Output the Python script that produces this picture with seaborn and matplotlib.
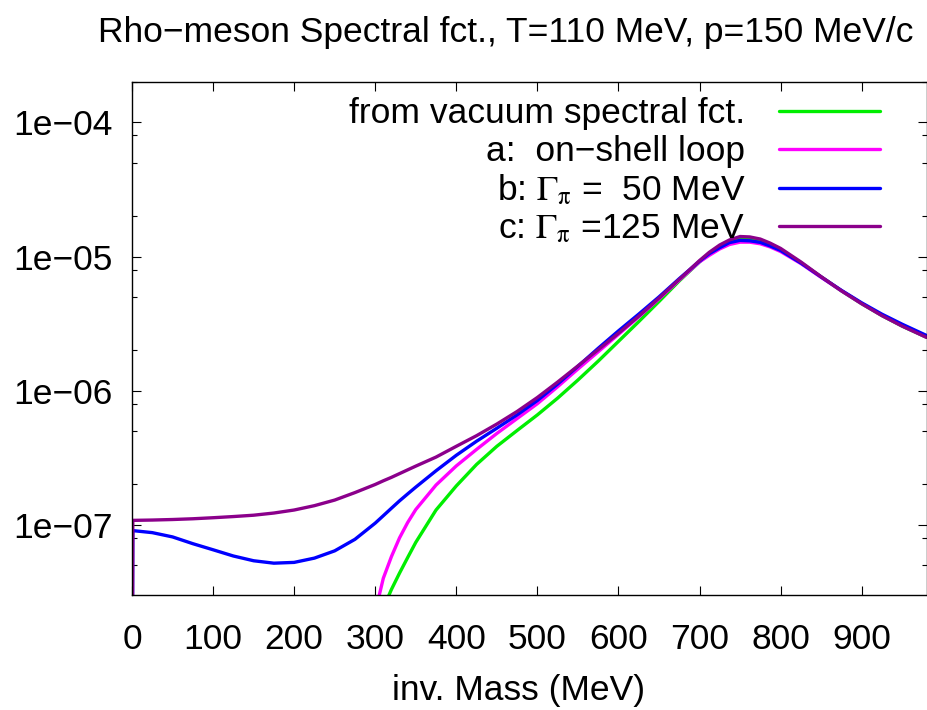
import numpy as np
import pandas as pd
import matplotlib
matplotlib.use("Agg")
import matplotlib.pyplot as plt
import matplotlib.ticker as mticker
import seaborn as sns

# ---------------- data ----------------
mass = [0, 1, 25, 50, 75, 100, 125, 150, 175, 200, 225, 250, 275, 300,
        310, 320, 330, 340, 350, 375, 400, 425, 450, 475, 500, 525, 550,
        575, 600, 625, 650, 675, 700, 712, 725, 737, 750, 762, 775, 787,
        800, 825, 850, 875, 900, 925, 950, 980]

nan = np.nan
spec_vacuum = [nan, nan, nan, nan, nan, nan, nan, nan, nan, nan, nan, nan, nan, nan,
               2.4e-8, 3.3e-8, 4.37e-8, 5.7e-8, 7.4e-8, 1.29e-7, 1.95e-7, 2.82e-7,
               3.85e-7, 5.05e-7, 6.6e-7, 8.8e-7, 1.20e-6, 1.66e-6, 2.33e-6, 3.27e-6,
               4.62e-6, 6.58e-6, 9.12e-6, 1.05e-5, 1.18e-5, 1.29e-5, 1.37e-5,
               1.365e-5, 1.32e-5, 1.235e-5, 1.127e-5, 9.0e-6, 7.05e-6, 5.55e-6,
               4.45e-6, 3.63e-6, 3.03e-6, 2.5e-6]

spec_onshell = [nan, nan, nan, nan, nan, nan, nan, nan, nan, nan, nan, nan, nan, 2.24e-8,
                4.0e-8, 5.8e-8, 8.0e-8, 1.04e-7, 1.3e-7, 1.98e-7, 2.75e-7, 3.65e-7,
                4.8e-7, 6.2e-7, 8.0e-7, 1.07e-6, 1.45e-6, 1.95e-6, 2.63e-6, 3.55e-6,
                4.84e-6, 6.68e-6, 9.12e-6, 1.02e-5, 1.14e-5, 1.23e-5, 1.28e-5,
                1.28e-5, 1.245e-5, 1.18e-5, 1.09e-5, 8.87e-6, 7.0e-6, 5.56e-6,
                4.47e-6, 3.65e-6, 3.05e-6, 2.51e-6]

spec_gamma50 = [1e-9, 9.06e-8, 8.75e-8, 8.13e-8, 7.24e-8, 6.52e-8, 5.86e-8, 5.4e-8,
                5.18e-8, 5.25e-8, 5.65e-8, 6.4e-8, 7.8e-8, 1.03e-7,
                1.17e-7, 1.33e-7, 1.51e-7, 1.70e-7, 1.91e-7, 2.53e-7, 3.30e-7, 4.2e-7,
                5.25e-7, 6.6e-7, 8.45e-7, 1.12e-6, 1.52e-6, 2.07e-6, 2.79e-6, 3.72e-6,
                5.0e-6, 6.84e-6, 9.23e-6, 1.05e-5, 1.165e-5, 1.27e-5, 1.32e-5,
                1.31e-5, 1.275e-5, 1.20e-5, 1.11e-5, 8.95e-6, 7.05e-6, 5.6e-6,
                4.52e-6, 3.72e-6, 3.13e-6, 2.58e-6]

spec_gamma125 = [1e-9, 1.08e-7, 1.086e-7, 1.096e-7, 1.11e-7, 1.13e-7, 1.153e-7, 1.18e-7,
                 1.225e-7, 1.29e-7, 1.39e-7, 1.53e-7, 1.74e-7, 2.0e-7,
                 2.13e-7, 2.26e-7, 2.41e-7, 2.57e-7, 2.74e-7, 3.2e-7, 3.85e-7, 4.62e-7,
                 5.64e-7, 7.0e-7, 8.9e-7, 1.16e-6, 1.53e-6, 2.02e-6, 2.68e-6, 3.59e-6,
                 4.9e-6, 6.76e-6, 9.33e-6, 1.075e-5, 1.22e-5, 1.33e-5, 1.41e-5,
                 1.40e-5, 1.35e-5, 1.26e-5, 1.15e-5, 9.12e-6, 7.08e-6, 5.56e-6,
                 4.45e-6, 3.63e-6, 3.03e-6, 2.50e-6]

series_labels = ["from vacuum spectral fct.",
                 "a:  on\u2212shell loop",
                 "b: $\\Gamma_{\\mathrm{\\pi}}$ =  50 MeV",
                 "c: $\\Gamma_{\\mathrm{\\pi}}$ =125 MeV"]
series_colors = ["#00ee00", "#ff00ff", "#0000ff", "#8b008b"]

xticks = [0, 100, 200, 300, 400, 500, 600, 700, 800, 900]
yticks = [1e-7, 1e-6, 1e-5, 1e-4]
ytick_labels = ["1e\u221207", "1e\u221206", "1e\u221205", "1e\u221204"]

title = "Rho\u2212meson Spectral fct., T=110 MeV, p=150 MeV/c"
xlabel = "inv. Mass (MeV)"

# ---------------- style ----------------
sns.set_theme(style="ticks")
plt.rcParams["font.family"] = ["Liberation Sans", "DejaVu Sans"]
plt.rcParams["mathtext.fontset"] = "stix"
plt.rcParams["axes.unicode_minus"] = True
for k in ["text.color", "axes.labelcolor", "xtick.color", "ytick.color",
          "axes.edgecolor"]:
    plt.rcParams[k] = "black"
FS = 25.5
LW = 2.4

W, H = 928, 710
fig = plt.figure(figsize=(W / 100, H / 100), dpi=100)
L, R, T, B = 132, 926.5, 82, 595
ax = fig.add_axes([L / W, 1 - B / H, (R - L) / W, (B - T) / H])
ax.set_yscale("log")

for vals, lab, col in zip([spec_vacuum, spec_onshell, spec_gamma50, spec_gamma125],
                          series_labels, series_colors):
    df = pd.DataFrame({"mass": mass, "spec": vals}).dropna()
    sns.lineplot(data=df, x="mass", y="spec", ax=ax, color=col, lw=LW,
                 estimator=None, sort=False, label=lab)

ax.set_xlim(0, 980)
ax.set_ylim(3e-8, 2e-4)

ax.xaxis.set_major_locator(mticker.FixedLocator(xticks))
ax.xaxis.set_major_formatter(mticker.FixedFormatter([str(v) for v in xticks]))
ax.xaxis.set_minor_locator(mticker.NullLocator())
ax.yaxis.set_major_locator(mticker.FixedLocator(yticks))
ax.yaxis.set_major_formatter(mticker.FixedFormatter(ytick_labels))
ax.yaxis.set_minor_locator(mticker.LogLocator(base=10, subs=(2.0, 5.0, 8.0)))
ax.yaxis.set_minor_formatter(mticker.NullFormatter())

ax.tick_params(which="both", direction="in", top=True, right=True,
               colors="black", width=0.8)
ax.tick_params(which="major", length=6.7)
ax.tick_params(which="minor", length=3.6)
ax.tick_params(axis="x", which="major", pad=20.5, labelsize=FS)
ax.tick_params(axis="y", which="major", pad=14, labelsize=FS)
for s in ax.spines.values():
    s.set_color("black")
    s.set_linewidth(1.0)

ax.set_xlabel(xlabel, fontsize=FS)
ax.xaxis.set_label_coords((519 - L) / (R - L), (B - 674) / (B - T))
ax.set_ylabel("")

fig.text(506 / W, 1 - 42 / H, title, ha="center", va="baseline", fontsize=FS)

leg = ax.legend(loc="upper right", bbox_to_anchor=((880 - L) / (R - L), 0.9705),
                frameon=False, markerfirst=False, fontsize=FS,
                handlelength=2.85, handletextpad=0.96, labelspacing=0.135,
                borderpad=0, borderaxespad=0)
for line in leg.get_lines():
    line.set_linewidth(LW)

fig.savefig("out.png", dpi=100)
